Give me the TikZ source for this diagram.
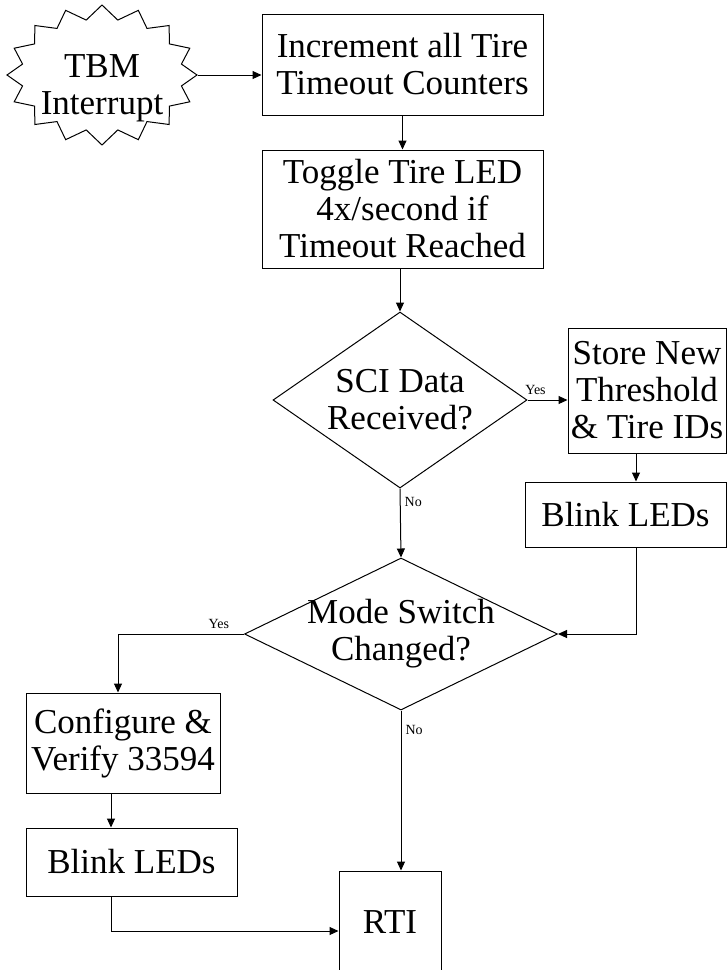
\documentclass[tikz,border=0pt]{standalone}
\usepackage{fontspec}
\setmainfont{Liberation Serif}
\usetikzlibrary{shapes.geometric,shapes.symbols,arrows.meta}
\tikzset{
  txt/.style={align=center, font=\fontsize{35}{37}\selectfont},
  box/.style={draw, rectangle, inner sep=2pt, txt},
  decision/.style={draw, diamond, inner sep=0pt},
  flow/.style={-{Triangle[length=9pt,width=8pt]}},
  answer/.style={font=\fontsize{14}{14}\selectfont, inner sep=1pt},
}
\begin{document}
\begin{tikzpicture}[x=1pt,y=-1pt,line width=1pt]
\path[use as bounding box, clip] (0,0) rectangle (727,970);

%start
\node[draw, starburst, starburst points=16, starburst point height=14pt,
  random starburst=0, minimum width=190pt, minimum height=140pt,
  label={[txt, name=tbmtxt, yshift=-13pt]center:TBM\\Interrupt}] (tbm) at (102,75) {};

%boxes
\node[box, minimum width=281pt, minimum height=101pt] (inc) at (402.5,64.5) {Increment all Tire\\Timeout Counters};
\node[box, minimum width=281pt, minimum height=118pt] (tog) at (402.5,209) {Toggle Tire LED\\4x/second if\\Timeout Reached};
\node[decision, minimum width=254pt, minimum height=176pt,
  label={[txt, name=scitxt]center:SCI Data\\Received?}] (sci) at (400,400) {};
\node[box, minimum width=158pt, minimum height=125pt] (store) at (647,390.5) {Store New\\Threshold\\\& Tire IDs};
\node[box, minimum width=201pt, minimum height=65pt] (blinkR) at (625.5,514.5) {Blink LEDs};
\node[decision, minimum width=313pt, minimum height=152pt,
  label={[txt, name=modetxt]center:Mode Switch\\Changed?}] (mode) at (401,634) {};
\node[box, minimum width=194pt, minimum height=100pt] (conf) at (123,743) {Configure \&\\Verify 33594};
\node[box, minimum width=211pt, minimum height=68pt] (blinkL) at (131.5,862) {Blink LEDs};
\node[box, minimum width=102pt, minimum height=102pt] (rti) at (390,922) {RTI};

%arrows
\draw[flow] (tbm.east) -- (tbm.east -| inc.west);
\draw[flow] (inc.south) -- (inc.south |- tog.north);
\draw[flow] (sci.north |- tog.south) -- (sci.north);
\draw[flow] (sci.east) -- (sci.east -| store.west) node[answer, pos=0.2, above=4pt] {Yes};
\draw[flow] ([xshift=-11pt]store.south) -- ([xshift=-11pt]store.south |- blinkR.north);
\draw[flow] ([xshift=10.5pt]blinkR.south) |- (mode.east);
\draw[flow] (sci.south) -- (mode.north) node[answer, pos=0.2, right=3pt] {No};
\draw[flow] (mode.west) -| ([xshift=-5pt]conf.north) node[answer, pos=0.1, above=4pt] {Yes};
\draw[flow] ([xshift=-12pt]conf.south) -- ([xshift=-12pt]conf.south |- blinkL.north);
\draw[flow] ([xshift=-20.5pt]blinkL.south) |- ([yshift=-9pt]rti.west);
\draw[flow] (mode.south) -- (mode.south |- rti.north) node[answer, pos=0.12, right=3pt] {No};
\end{tikzpicture}
\end{document}
